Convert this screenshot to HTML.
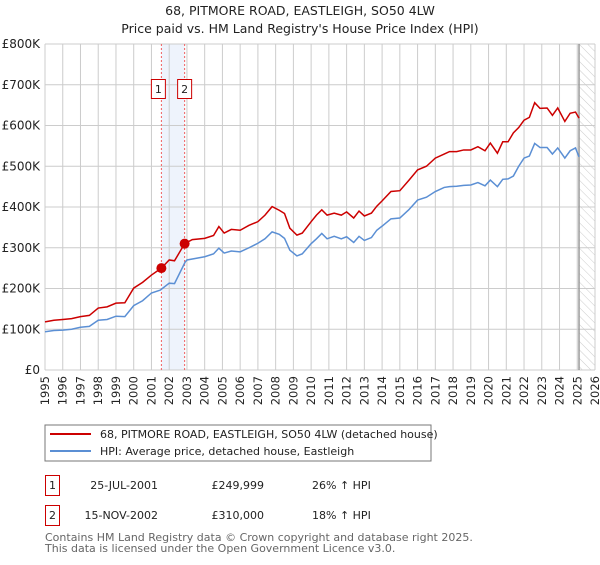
<!DOCTYPE html>
<html><head><meta charset="utf-8"><style>
body{margin:0;background:#fff;font-family:"Liberation Sans","DejaVu Sans",sans-serif;}
svg text{font-family:"DejaVu Sans","Liberation Sans",sans-serif;}
</style></head><body>
<svg id="c" width="600" height="560" xmlns="http://www.w3.org/2000/svg">
<defs><pattern id="hatch" width="6" height="6" patternUnits="userSpaceOnUse" patternTransform="rotate(-45)"><line x1="0" y1="0" x2="0" y2="6" stroke="#ccc" stroke-width="1"/></pattern></defs>
<text x="300" y="15" text-anchor="middle" font-size="12.5" fill="#222">68, PITMORE ROAD, EASTLEIGH, SO50 4LW</text>
<text x="300" y="33" text-anchor="middle" font-size="12.5" fill="#222">Price paid vs. HM Land Registry's House Price Index (HPI)</text>
<g id="grid"></g><g id="marks"></g>
<rect x="45" y="425" width="386" height="36" fill="#fff" stroke="#777"/>
<line x1="50" y1="434" x2="91" y2="434" stroke="#cc0000" stroke-width="2"/>
<text x="100" y="438" font-size="11" fill="#222">68, PITMORE ROAD, EASTLEIGH, SO50 4LW (detached house)</text>
<line x1="50" y1="451" x2="91" y2="451" stroke="#5b8fd4" stroke-width="2"/>
<text x="100" y="455" font-size="11" fill="#222">HPI: Average price, detached house, Eastleigh</text>
<g>
<rect x="45.5" y="475.5" width="14" height="20" fill="#fff" stroke="#cc0000"/>
<text x="52.5" y="489" text-anchor="middle" font-size="11" fill="#222">1</text>
<text x="158" y="489" text-anchor="end" font-size="11" fill="#222">25-JUL-2001</text>
<text x="264" y="489" text-anchor="end" font-size="11" fill="#222">£249,999</text>
<text x="312" y="489" font-size="11" fill="#222">26% ↑ HPI</text></g>
<g>
<rect x="45.5" y="505.5" width="14" height="20" fill="#fff" stroke="#cc0000"/>
<text x="52.5" y="519" text-anchor="middle" font-size="11" fill="#222">2</text>
<text x="158" y="519" text-anchor="end" font-size="11" fill="#222">15-NOV-2002</text>
<text x="264" y="519" text-anchor="end" font-size="11" fill="#222">£310,000</text>
<text x="312" y="519" font-size="11" fill="#222">18% ↑ HPI</text></g>
<text x="45" y="541" font-size="11" fill="#666">Contains HM Land Registry data © Crown copyright and database right 2025.</text>
<text x="45" y="552" font-size="11" fill="#666">This data is licensed under the Open Government Licence v3.0.</text>
</svg>
<script>
const yTicks=[0,100000,200000,300000,400000,500000,600000,700000,800000];
const yTickLabels=["£0","£100K","£200K","£300K","£400K","£500K","£600K","£700K","£800K"];
const xYears=[1995,1996,1997,1998,1999,2000,2001,2002,2003,2004,2005,2006,2007,2008,2009,2010,2011,2012,2013,2014,2015,2016,2017,2018,2019,2020,2021,2022,2023,2024,2025,2026];
const hpiDates=[1995,1995.5,1996,1996.5,1997,1997.5,1998,1998.5,1999,1999.5,2000,2000.5,2001,2001.5,2002,2002.3,2002.9,2003,2003.5,2004,2004.5,2004.8,2005.1,2005.5,2006,2006.5,2007,2007.4,2007.8,2008.2,2008.5,2008.8,2009.2,2009.5,2010,2010.3,2010.6,2010.9,2011.3,2011.7,2012,2012.4,2012.7,2013,2013.4,2013.7,2014,2014.5,2015,2015.5,2016,2016.5,2017,2017.5,2017.8,2018.2,2018.6,2019,2019.4,2019.8,2020.1,2020.5,2020.8,2021.1,2021.4,2021.7,2022,2022.3,2022.6,2022.9,2023.3,2023.6,2023.9,2024.3,2024.6,2024.9,2025.1];
const hpiValues=[94000,97000,98000,100000,105000,107000,122000,124000,132000,131000,158000,170000,189000,196000,213000,212000,265000,270000,274000,278000,285000,299000,287000,292000,290000,300000,311000,322000,339000,333000,323000,294000,280000,285000,310000,322000,335000,322000,328000,322000,327000,313000,328000,318000,325000,343000,353000,371000,373000,393000,417000,424000,438000,448000,450000,451000,453000,454000,460000,452000,466000,450000,468000,469000,476000,500000,520000,525000,556000,546000,546000,530000,545000,520000,538000,545000,523000];
const ppDates=[1995,1995.5,1996,1996.5,1997,1997.5,1998,1998.5,1999,1999.5,2000,2000.5,2001,2001.56,2002,2002.3,2002.87,2003.3,2004,2004.5,2004.8,2005.1,2005.5,2006,2006.5,2007,2007.4,2007.8,2008.2,2008.5,2008.8,2009.2,2009.5,2010,2010.3,2010.6,2010.9,2011.3,2011.7,2012,2012.4,2012.7,2013,2013.4,2013.7,2014,2014.5,2015,2015.5,2016,2016.5,2017,2017.5,2017.8,2018.2,2018.6,2019,2019.4,2019.8,2020.1,2020.5,2020.8,2021.1,2021.4,2021.7,2022,2022.3,2022.6,2022.9,2023.3,2023.6,2023.9,2024.3,2024.6,2024.9,2025.1];
const ppValues=[118000,122000,124000,126000,131000,134000,152000,155000,164000,165000,201000,215000,233000,250000,270000,268000,310000,320000,323000,330000,352000,336000,345000,343000,355000,364000,380000,401000,392000,384000,348000,331000,336000,364000,380000,393000,380000,385000,380000,388000,373000,390000,378000,385000,402000,415000,438000,440000,465000,491000,500000,520000,530000,536000,536000,540000,540000,548000,538000,557000,532000,560000,560000,582000,595000,613000,620000,656000,642000,643000,625000,643000,610000,630000,633000,618000];
const saleDates=[2001.56,2002.87];
const salePrices=[249999,310000];
const saleLabels=["1","2"];
const X0=45,X1=595,Y0=370,Y1=44;
const xs=y=>X0+(y-1995)/(2026-1995)*(X1-X0);
const ys=v=>Y0-v/800000*(Y0-Y1);
const NS="http://www.w3.org/2000/svg";
function mk(t,a,p){const e=document.createElementNS(NS,t);for(const k in a)e.setAttribute(k,a[k]);p.appendChild(e);return e;}
const g=document.getElementById('grid'),m=document.getElementById('marks');
const shade=mk('rect',{x:xs(saleDates[0]),y:Y1,width:xs(saleDates[1])-xs(saleDates[0]),height:Y0-Y1,fill:'#eef3fc'},g);


const ht=mk('rect',{x:xs(2025.1),y:Y1,width:X1-xs(2025.1),height:Y0-Y1,fill:'url(#hatch)'},g);


yTicks.forEach((v,i)=>{
 const l=mk('line',{x1:X0,x2:X1,y1:ys(v),y2:ys(v),stroke:'#ccc'},g);
 
 
 const t=mk('text',{x:40,y:ys(v)+4,'text-anchor':'end','font-size':'12',fill:'#222'},g);t.textContent=yTickLabels[i];
 
 
});
xYears.forEach(yr=>{
 const l=mk('line',{x1:xs(yr),x2:xs(yr),y1:Y1,y2:Y0,stroke:'#ccc'},g);
 
 
 const t=mk('text',{x:xs(yr)+4,y:Y0+6,'text-anchor':'end','font-size':'11.5',fill:'#222',transform:`rotate(-90 ${xs(yr)+4} ${Y0+6})`},g);t.textContent=yr;
 
 
});
const nl=mk('line',{x1:xs(2025.1),x2:xs(2025.1),y1:Y1,y2:Y0,stroke:'#999','stroke-width':1.5},g);


saleDates.forEach((d,i)=>{
 const l=mk('line',{x1:xs(d),x2:xs(d),y1:Y1,y2:Y0,stroke:'#f06060','stroke-dasharray':'2,2'},m);
 
 
 const r=mk('rect',{x:xs(d)-7+(i?0:-3),y:79.5,width:14,height:19,fill:'#fff',stroke:'#cc0000'},m);
 
 
 const t=mk('text',{x:xs(d)+(i?0:-3),y:93,'text-anchor':'middle','font-size':'11',fill:'#222'},m);t.textContent=saleLabels[i];
 
 
});
const hp=mk('polyline',{points:hpiDates.map((d,i)=>xs(d)+','+ys(hpiValues[i])).join(' '),fill:'none',stroke:'#5b8fd4','stroke-width':1.5},m);


const pp=mk('polyline',{points:ppDates.map((d,i)=>xs(d)+','+ys(ppValues[i])).join(' '),fill:'none',stroke:'#cc0000','stroke-width':1.5},m);


saleDates.forEach((d,i)=>{
 const c=mk('circle',{cx:xs(d),cy:ys(salePrices[i]),r:5,fill:'#cc0000'},m);
 
 
});
</script>
</body></html>
